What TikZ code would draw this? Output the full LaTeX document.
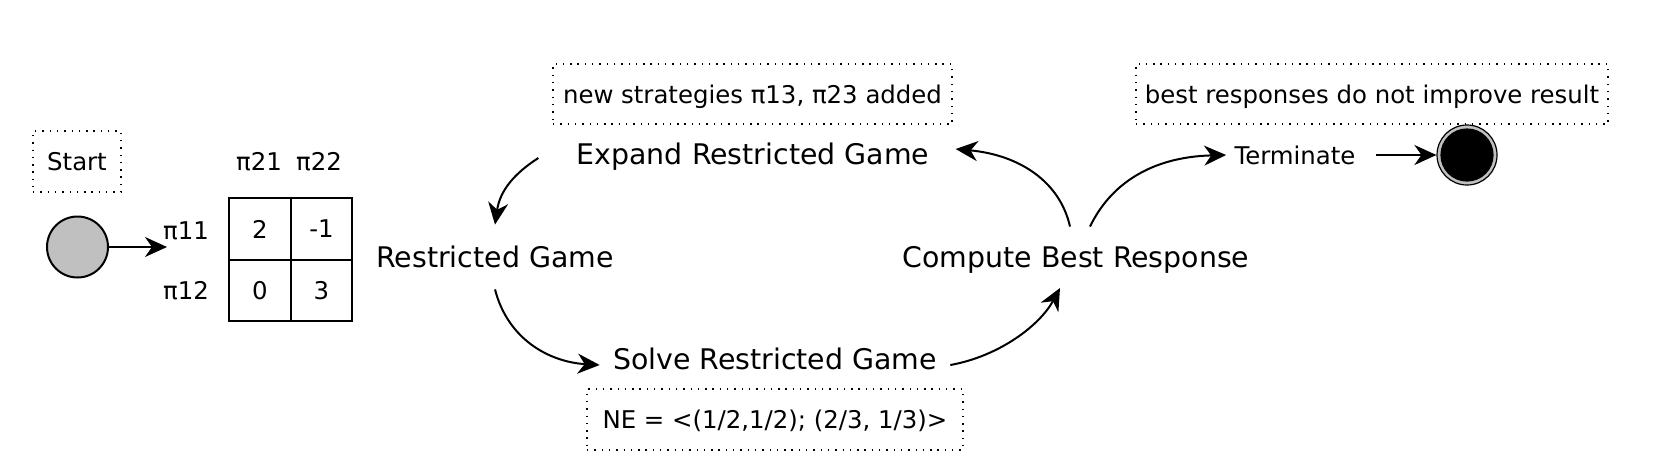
\documentclass[tikz,border=0pt]{standalone}
\usepackage{fontspec}
\setmainfont{DejaVu Sans}
\usetikzlibrary{arrows.meta,calc}
\definecolor{startgray}{RGB}{192,192,192}
\begin{document}
\begin{tikzpicture}[x=0.5pt,y=-0.5pt,
  small/.style={font=\fontsize{12.2pt}{14pt}\selectfont},
  big/.style={font=\fontsize{14.2pt}{17pt}\selectfont},
  note/.style={draw, line width=0.7pt, dash pattern=on 0.7pt off 2.95pt, inner sep=0pt, text depth=0pt, small},
  flow/.style={line width=1pt, -{Stealth[length=11pt,width=10pt,inset=3.5pt]}},
  cell/.style={draw, line width=1pt, minimum width=30.75pt, minimum height=30.75pt, inner sep=0pt, small},
  lbl/.style={small, inner sep=0pt},
  stagetext/.style={big, inner sep=0pt, text depth=0pt},
]
\useasboundingbox (0,0) rectangle (1659,467);

% start
\node[note, minimum width=44pt, minimum height=30.5pt] (startnote) at (77,161.5) {Start};
\node[draw, line width=1pt, circle, fill=startgray, minimum size=30.5pt, inner sep=0pt] (start) at (77.5,247) {};
\coordinate (gametip) at (167,247);
\draw[flow] (start) -- (gametip);

% payoff table
\node[lbl] (p11) at (186,231) {π11};
\node[lbl] (p12) at (186,291) {π12};
\node[lbl] (p21) at (259,162) {π21};
\node[lbl] (p22) at (319,162) {π22};
\node[cell] (c11) at (260,229) {2};
\node[cell] (c12) at (321.5,229) {-1};
\node[cell] (c21) at (260,290.5) {0};
\node[cell] (c22) at (321.5,290.5) {3};

% stages
\node[stagetext, minimum height=32pt] (restricted) at (495,257) {Restricted Game};
\node[stagetext] (expand) at (753,154) {Expand Restricted Game};
\node[stagetext] (solve) at (775,359) {Solve Restricted Game};
\node[stagetext, minimum height=30pt] (compute) at (1076,257) {Compute Best Response};
\node[lbl] (term) at (1295,155) {Terminate};
\node[draw, line width=0.6pt, circle, fill=startgray, minimum size=30pt, inner sep=0pt] (endc) at (1467,155) {};
\filldraw[line width=0.6pt] (endc.center) circle (13pt);

% notes
\node[note, minimum width=199.5pt, minimum height=30pt] (expnote) at (752.5,94) {new strategies π13, π23 added};
\node[note, minimum width=188pt, minimum height=30.5pt] (nenote) at (775,419.5) {NE = <(1/2,1/2); (2/3, 1/3)>};
\node[note, minimum width=236pt, minimum height=30pt] (termnote) at (1372,94) {best responses do not improve result};

% connectors
\draw[flow] ($(expand.west)+(-38,4)$) .. controls (515,173) and (500,190) .. (restricted.north);
\draw[flow] (restricted.south) .. controls (508,340) and (550,362) .. ($(solve.west)+(-13,6)$);
\draw[flow] ($(solve.east)+(13,6)$) .. controls (1000,356) and (1040,325) .. (1060,288);
\draw[flow] ($(compute.north)+(-6,0)$) .. controls (1060,182) and (1020,155) .. ($(expand.east)+(26,-5)$);
\draw[flow] ($(compute.north)+(14,0)$) .. controls (1110,185) and (1150,157) .. ($(term.west)+(-8,0)$);
\draw[flow] ($(term.east)+(20,0)$) -- (endc.west);
\end{tikzpicture}
\end{document}
